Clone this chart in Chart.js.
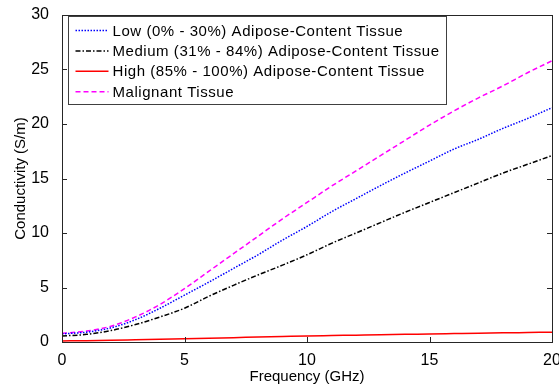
<!DOCTYPE html>
<html lang="en">
<head>
    <meta charset="UTF-8">
    <title>Conductivity vs Frequency</title>
    <script src="https://cdn.jsdelivr.net/npm/chart.js"></script>
    <style>
        body {
            margin: 0;
            padding: 0;
            background: #ffffff;
        }
        #wrap {
            width: 559px;
            height: 386px;
        }
    </style>
</head>
<body>
    <div id="wrap">
        <canvas id="condChart" width="559" height="386"></canvas>
    </div>

    <script>
        // Frequency samples (GHz) and conductivity (S/m) for each tissue type
        const freqGHz = [0, 1, 2, 3, 4, 5, 6, 7, 8, 9, 10, 11, 12, 13, 14, 15, 16, 17, 18, 19, 20];
        const lowAdipose = [0.75, 0.9, 1.3, 2.05, 3.1, 4.3, 5.5, 6.75, 8.0, 9.35, 10.6, 11.95, 13.15, 14.35, 15.5, 16.6, 17.7, 18.6, 19.6, 20.5, 21.5];
        const mediumAdipose = [0.55, 0.7, 1.05, 1.6, 2.3, 3.1, 4.2, 5.2, 6.15, 7.05, 8.0, 9.05, 10.0, 10.95, 11.9, 12.8, 13.7, 14.6, 15.5, 16.3, 17.1];
        const highAdipose = [0.1, 0.12, 0.15, 0.2, 0.25, 0.3, 0.35, 0.4, 0.45, 0.5, 0.55, 0.59, 0.63, 0.67, 0.7, 0.74, 0.77, 0.8, 0.84, 0.87, 0.9];
        const malignant = [0.8, 1.0, 1.45, 2.3, 3.45, 4.9, 6.5, 8.1, 9.7, 11.3, 12.8, 14.3, 15.7, 17.1, 18.5, 19.9, 21.2, 22.4, 23.5, 24.7, 25.8];

        const seriesNames = [
            'Low (0% - 30%) Adipose-Content Tissue',
            'Medium (31% - 84%) Adipose-Content Tissue',
            'High (85% - 100%) Adipose-Content Tissue',
            'Malignant Tissue'
        ];
        const xTicks = [0, 5, 10, 15, 20];
        const yTicks = [0, 5, 10, 15, 20, 25, 30];

        const FONT = '"Liberation Sans", Arial, sans-serif';

        function toPoints(values) {
            return values.map((v, i) => ({ x: freqGHz[i], y: v }));
        }

        // Matlab-style frame: box around the axes with inward tick marks
        const framePlugin = {
            id: 'frame',
            afterDatasetsDraw(chart) {
                const ctx = chart.ctx;
                const a = chart.chartArea;
                const xs = chart.scales.x;
                const ys = chart.scales.y;
                ctx.save();
                ctx.strokeStyle = '#262626';
                ctx.lineWidth = 1;
                xTicks.forEach(t => {
                    const px = Math.round(xs.getPixelForValue(t)) + 0.5;
                    ctx.beginPath();
                    ctx.moveTo(px, a.bottom);
                    ctx.lineTo(px, a.bottom - 5);
                    ctx.moveTo(px, a.top);
                    ctx.lineTo(px, a.top + 5);
                    ctx.stroke();
                });
                yTicks.forEach(t => {
                    const py = Math.round(ys.getPixelForValue(t)) + 0.5;
                    ctx.beginPath();
                    ctx.moveTo(a.left, py);
                    ctx.lineTo(a.left + 5, py);
                    ctx.moveTo(a.right, py);
                    ctx.lineTo(a.right - 5, py);
                    ctx.stroke();
                });
                ctx.strokeRect(Math.round(a.left) + 0.5, Math.round(a.top) + 0.5,
                    Math.round(a.right - a.left), Math.round(a.bottom - a.top));
                ctx.restore();
            }
        };

        // Boxed legend in the upper-left corner of the plot
        const boxLegendPlugin = {
            id: 'boxLegend',
            afterDatasetsDraw(chart) {
                const ctx = chart.ctx;
                const a = chart.chartArea;
                const x0 = Math.round(a.left) + 6.5;
                const y0 = Math.round(a.top) + 1.5;
                const w = 378;
                const h = 88;
                const rowH = 20.4;
                ctx.save();
                ctx.fillStyle = '#ffffff';
                ctx.fillRect(x0, y0, w, h);
                ctx.strokeStyle = '#404040';
                ctx.lineWidth = 1;
                ctx.strokeRect(x0, y0, w, h);
                ctx.font = '15px ' + FONT;
                ctx.textBaseline = 'middle';
                chart.data.datasets.forEach((ds, i) => {
                    const y = y0 + 14 + i * rowH;
                    ctx.strokeStyle = ds.borderColor;
                    ctx.lineWidth = ds.borderWidth;
                    ctx.setLineDash(ds.borderDash || []);
                    ctx.beginPath();
                    ctx.moveTo(x0 + 7, y);
                    ctx.lineTo(x0 + 40, y);
                    ctx.stroke();
                    ctx.setLineDash([]);
                    ctx.fillStyle = '#000000';
                    ctx.letterSpacing = '0.55px';
                    ctx.fillText(ds.label, x0 + 44, y + 1);
                    ctx.letterSpacing = '0px';
                });
                ctx.restore();
            }
        };

        new Chart(document.getElementById('condChart').getContext('2d'), {
            type: 'line',
            data: {
                datasets: [
                    {
                        label: seriesNames[0],
                        data: toPoints(lowAdipose),
                        borderColor: '#0000ff',
                        borderWidth: 1.5,
                        borderDash: [1.5, 1.5]
                    },
                    {
                        label: seriesNames[1],
                        data: toPoints(mediumAdipose),
                        borderColor: '#000000',
                        borderWidth: 1.5,
                        borderDash: [5, 2, 1.5, 2]
                    },
                    {
                        label: seriesNames[2],
                        data: toPoints(highAdipose),
                        borderColor: '#ff0000',
                        borderWidth: 1.5
                    },
                    {
                        label: seriesNames[3],
                        data: toPoints(malignant),
                        borderColor: '#ff00ff',
                        borderWidth: 1.5,
                        borderDash: [5, 3]
                    }
                ]
            },
            options: {
                responsive: false,
                animation: false,
                layout: { padding: { top: 15, right: 7, left: 0, bottom: 0 } },
                elements: {
                    point: { radius: 0 },
                    line: { tension: 0.4, cubicInterpolationMode: 'monotone' }
                },
                plugins: {
                    legend: { display: false },
                    tooltip: { enabled: false }
                },
                scales: {
                    x: {
                        type: 'linear',
                        min: 0,
                        max: 20,
                        afterBuildTicks: s => { s.ticks = xTicks.map(v => ({ value: v })); },
                        afterFit: s => { s.height = 44; s.paddingLeft = 0; s.paddingRight = 0; },
                        grid: { display: false },
                        border: { display: false },
                        ticks: {
                            color: '#000000',
                            font: { family: FONT, size: 16 },
                            padding: 1,
                            maxRotation: 0
                        },
                        title: {
                            display: true,
                            text: 'Frequency (GHz)',
                            color: '#000000',
                            font: { family: FONT, size: 15 },
                            padding: { top: 0, bottom: 0 }
                        }
                    },
                    y: {
                        type: 'linear',
                        min: 0,
                        max: 30,
                        afterBuildTicks: s => { s.ticks = yTicks.map(v => ({ value: v })); },
                        afterFit: s => { s.width = 62; s.paddingTop = 0; s.paddingBottom = 0; },
                        grid: { display: false },
                        border: { display: false },
                        ticks: {
                            color: '#000000',
                            font: { family: FONT, size: 16 },
                            padding: 5
                        },
                        title: {
                            display: true,
                            text: 'Conductivity (S/m)',
                            color: '#000000',
                            font: { family: FONT, size: 15 },
                            padding: { top: 12, bottom: 0 }
                        }
                    }
                }
            },
            plugins: [framePlugin, boxLegendPlugin]
        });
    </script>
</body>
</html>
